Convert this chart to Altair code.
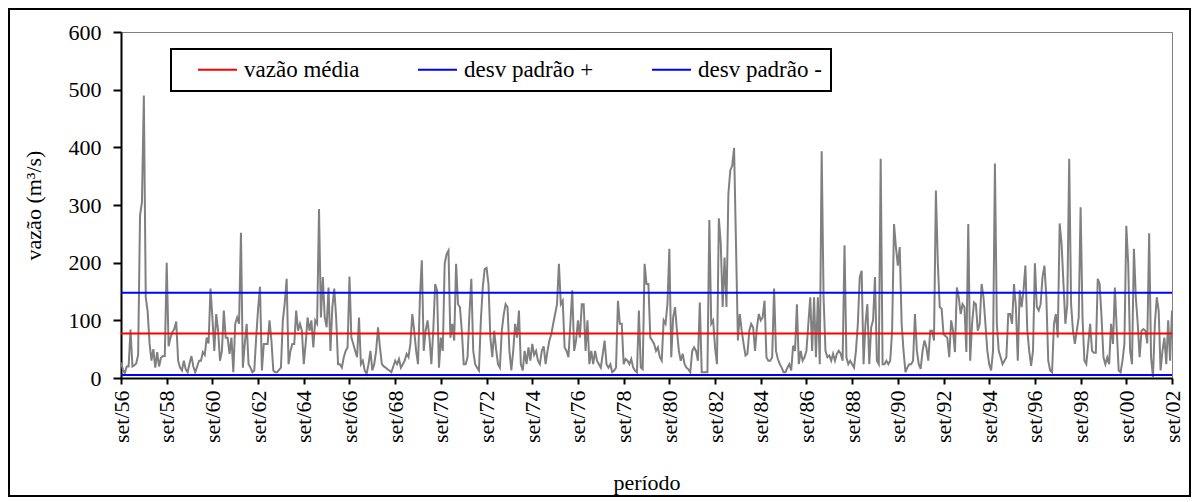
import altair as alt
import pandas as pd

# ---- data (monthly flow, set/1956 .. set/2002) ----
vazao_56_60 = [27, 15, 8, 20, 20, 84, 20, 22, 25, 40, 282, 305, 490, 140, 115, 60, 30, 50, 18, 45,
               20, 35, 38, 38, 200, 55, 70, 80, 85, 98, 30, 18, 13, 30, 15, 10, 25, 38, 20, 10,
               20, 30, 30, 45, 40, 70, 60]
vazao_60_64 = [155, 105, 47, 111, 82, 30, 47, 117, 70, 70, 42, 70, 10, 94, 105, 94, 252, 18, 59, 94,
               24, 18, 10, 13, 70, 120, 158, 13, 59, 59, 59, 100, 65, 13, 10, 10, 14, 18, 100, 130,
               172, 24, 47, 59, 59, 117, 82, 94, 82, 24]
vazao_64_68 = [60, 105, 82, 100, 53, 100, 94, 293, 105, 175, 105, 88, 157, 47, 123, 155, 105, 24, 24, 18,
               36, 47, 53, 176, 70, 59, 47, 36, 105, 24, 30, 13, 7, 24, 47, 13, 24, 47, 88, 53,
               24, 20, 18, 15, 13, 10, 20, 30, 24, 33]
vazao_68_72 = [18, 24, 30, 42, 36, 60, 111, 82, 47, 24, 140, 204, 47, 82, 100, 70, 24, 82, 163, 152,
               18, 70, 47, 198, 215, 221, 70, 94, 65, 198, 128, 123, 82, 24, 24, 36, 111, 172, 47, 24,
               18, 13, 100, 157, 189, 191, 163, 70, 36, 82, 50, 24, 18]
vazao_72_76 = [82, 110, 128, 123, 47, 13, 47, 94, 70, 117, 24, 13, 47, 24, 53, 30, 59, 40, 47, 30,
               24, 47, 55, 24, 47, 65, 76, 94, 111, 128, 198, 128, 134, 53, 47, 36, 94, 152, 47, 65,
               100, 70, 128, 128, 47, 100, 24, 47, 24]
vazao_76_80 = [47, 30, 24, 18, 41, 65, 24, 18, 24, 10, 13, 18, 134, 94, 94, 24, 33, 30, 24, 33,
               18, 13, 10, 117, 18, 15, 198, 163, 163, 70, 65, 59, 47, 53, 36, 30, 100, 94, 128, 224,
               36, 105, 123, 82, 47, 30, 42, 24, 18, 15]
vazao_80_85 = [10, 47, 53, 47, 30, 131, 10, 10, 10, 10, 274, 94, 100, 53, 24, 277, 233, 123, 209, 123,
               319, 360, 368, 399, 233, 65, 111, 82, 59, 39, 42, 82, 94, 88, 47, 88, 111, 100, 105, 134,
               36, 30, 30, 36, 155, 47, 33, 24, 18, 10]
vazao_85_89 = [10, 18, 24, 13, 56, 47, 128, 24, 47, 30, 36, 47, 94, 140, 47, 140, 36, 140, 24, 393,
               140, 47, 36, 39, 30, 42, 30, 42, 47, 42, 30, 230, 36, 24, 30, 24, 18, 47, 94, 175,
               186, 24, 94, 128, 24, 88, 100, 175, 30, 24, 380]
vazao_89_93 = [24, 24, 30, 24, 30, 82, 267, 227, 195, 227, 94, 47, 10, 18, 24, 24, 30, 111, 47, 24,
               16, 47, 65, 53, 30, 82, 82, 65, 325, 200, 123, 120, 76, 73, 70, 36, 100, 82, 45, 157,
               140, 111, 128, 123, 45, 267, 30, 94, 131]
vazao_93_98 = [128, 82, 94, 163, 140, 94, 47, 24, 13, 47, 372, 94, 47, 36, 24, 30, 36, 111, 111, 94,
               163, 123, 30, 152, 123, 152, 195, 82, 47, 21, 47, 199, 123, 117, 128, 175, 195, 140, 30, 13,
               10, 94, 111, 70, 268, 233, 163, 94, 128, 380]
vazao_98_02 = [128, 82, 59, 82, 105, 296, 105, 30, 24, 59, 94, 47, 44, 44, 172, 163, 105, 36, 24, 36,
               24, 94, 59, 157, 82, 13, 10, 30, 59, 264, 198, 47, 24, 224, 140, 94, 36, 82, 85, 82,
               60, 251, 36, 2, 94, 140, 117, 13, 47, 70, 24, 100, 30, 117]

tick_labels = ["set/56", "set/58", "set/60", "set/62", "set/64", "set/66", "set/68", "set/70",
               "set/72", "set/74", "set/76", "set/78", "set/80", "set/82", "set/84", "set/86",
               "set/88", "set/90", "set/92", "set/94", "set/96", "set/98", "set/00", "set/02"]
y_ticks = [0, 100, 200, 300, 400, 500, 600]

series_names = ["vazão média", "desv padrão +", "desv padrão -"]
series_values = [77, 148, 5]
series_colors = ["#ff0000", "#0000ff", "#0000ff"]

# ---- build tables ----
vazao = (vazao_56_60 + vazao_60_64 + vazao_64_68 + vazao_68_72 + vazao_72_76 + vazao_76_80
         + vazao_80_85 + vazao_85_89 + vazao_89_93 + vazao_93_98 + vazao_98_02)
df = pd.DataFrame({"mes": list(range(len(vazao))), "vazao": vazao})
ref = pd.DataFrame({"serie": series_names, "valor": series_values})
frame_df = pd.DataFrame({"moldura": [0]})

FONT = "Liberation Serif"
W, H = 1051, 346
PAD = {"left": 113, "top": 24, "right": 19, "bottom": 119}

step = 24
tick_values = [i * step for i in range(len(tick_labels))]
label_expr = "[" + ",".join("'%s'" % t for t in tick_labels) + "][round(datum.value/%d)]" % step

x_scale = alt.Scale(domain=[0, len(vazao) - 1], nice=False, zero=False)
y_scale = alt.Scale(domain=[0, 600], nice=False)

y_axis = alt.Axis(values=y_ticks, tickSize=8, labelPadding=12, labelFontSize=22,
                  title="vazão (m³/s)", titlePadding=23)

line = alt.Chart(df).mark_line(color="#808080", strokeWidth=2).encode(
    x=alt.X("mes:Q", scale=x_scale,
            axis=alt.Axis(values=tick_values, labelExpr=label_expr, labelAngle=270,
                          labelAlign="right", labelBaseline="middle", labelPadding=6,
                          tickSize=6, title="período", titlePadding=30, labelFlush=False,
                          labelOverlap=False)),
    y=alt.Y("vazao:Q", scale=y_scale, axis=y_axis),
)

rules = alt.Chart(ref).mark_rule(strokeWidth=2).encode(
    y=alt.Y("valor:Q", scale=y_scale, axis=y_axis),
    color=alt.Color("serie:N", sort=series_names,
                    scale=alt.Scale(domain=series_names, range=series_colors),
                    legend=alt.Legend(title=None, orient="none", legendX=50, legendY=17,
                                      direction="horizontal", symbolType="stroke",
                                      symbolSize=1521, symbolStrokeWidth=2, symbolOffset=17,
                                      labelFont=FONT, labelFontSize=23, labelColor="black",
                                      labelOffset=6, columnPadding=40, padding=9,
                                      clipHeight=23,
                                      gridAlign="each", strokeColor="black",
                                      fillColor="white")),
)

frame = alt.Chart(frame_df).mark_rect(fillOpacity=0, stroke="black", strokeWidth=2).encode(
    x=alt.value(-112), x2=alt.value(1069), y=alt.value(-23), y2=alt.value(464)
)

chart = alt.layer(frame, line, rules).properties(
    width=W, height=H, padding=PAD,
    autosize=alt.AutoSizeParams(type="none"), background="white",
).configure_view(
    stroke="#808080", strokeWidth=1
).configure_axis(
    domainColor="black", domainWidth=2, tickColor="black", tickWidth=2,
    labelFont=FONT, labelFontSize=22, labelColor="black",
    titleFont=FONT, titleFontSize=22, titleFontWeight="normal", titleColor="black",
    grid=False
).configure_legend(
    strokeWidth=2
)

chart.save("out.html", embed_options={"renderer": "svg", "actions": False})
